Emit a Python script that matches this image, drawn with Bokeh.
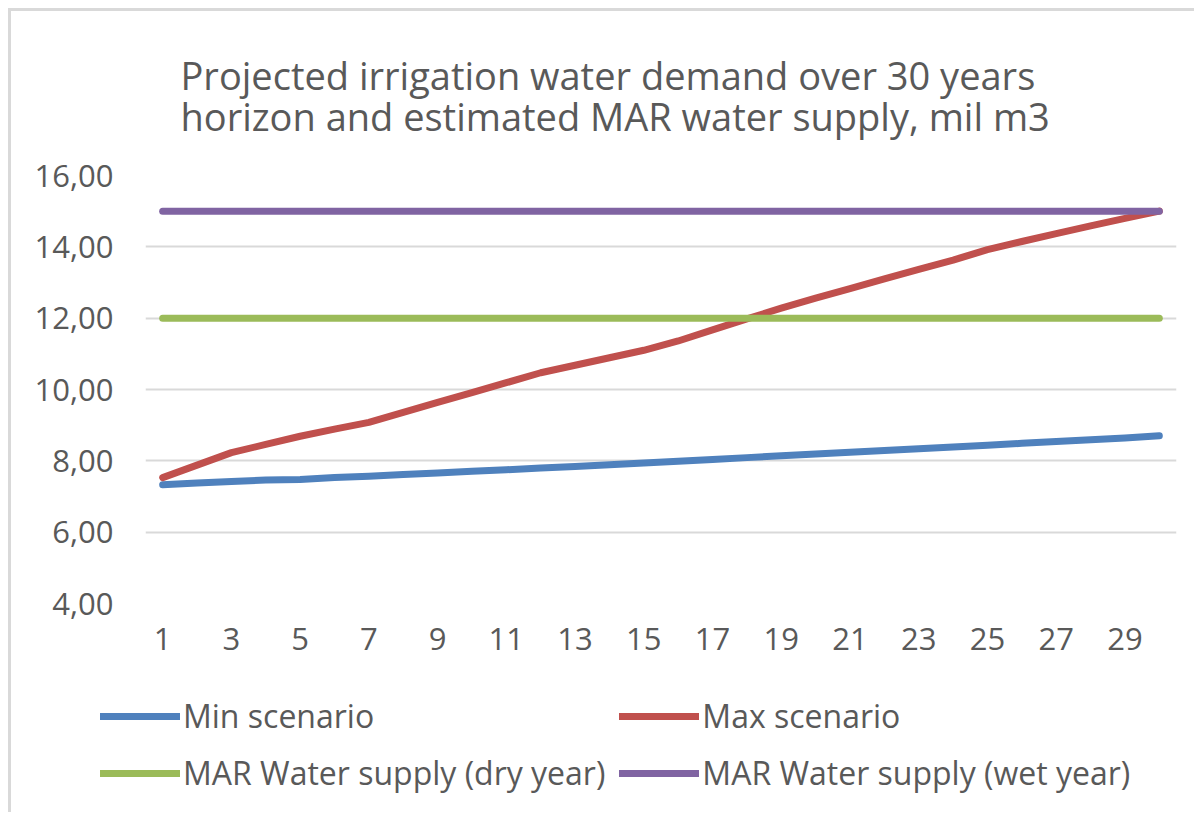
from bokeh.plotting import figure
from bokeh.models import (Legend, LegendItem, FixedTicker, CustomJSTickFormatter,
                          Range1d)
from bokeh.embed import file_html
from bokeh.resources import INLINE

# ---- data ----
years = list(range(1, 31))
min_scenario = [7.33, 7.38, 7.42, 7.46, 7.48, 7.53, 7.57, 7.62, 7.66, 7.71,
                7.75, 7.80, 7.84, 7.89, 7.94, 7.99, 8.04, 8.09, 8.14, 8.19,
                8.24, 8.29, 8.34, 8.39, 8.44, 8.49, 8.54, 8.59, 8.64, 8.70]
max_scenario = [7.53, 7.88, 8.23, 8.46, 8.69, 8.89, 9.08, 9.36, 9.64, 9.91,
                10.19, 10.47, 10.68, 10.89, 11.10, 11.36, 11.67, 11.98, 12.28, 12.56,
                12.83, 13.10, 13.37, 13.63, 13.92, 14.15, 14.37, 14.59, 14.80, 15.00]
dry_year = [12.0] * 30
wet_year = [15.0] * 30
y_ticks = [4, 6, 8, 10, 12, 14, 16]
x_ticks = [1, 3, 5, 7, 9, 11, 13, 15, 17, 19, 21, 23, 25, 27, 29]

series = [
    ("Min scenario", min_scenario, "#4f81bd"),
    ("Max scenario", max_scenario, "#c0504d"),
    ("MAR Water supply (dry year)", dry_year, "#9bbb59"),
    ("MAR Water supply (wet year)", wet_year, "#8064a2"),
]

FONT = "Open Sans"
TXT = "#595959"
W = 1186
BORDER = "3px solid #d9d9d9"

# ---- main chart ----
p = figure(width=W, height=680, output_backend="svg", toolbar_location=None,
           x_range=Range1d(0.5, 30.5), y_range=Range1d(4, 16),
           min_border_left=134, min_border_right=21, min_border_top=164,
           min_border_bottom=88)
p.styles = {"margin-left": "8px", "margin-top": "8px",
            "border-left": BORDER, "border-top": BORDER}
p.outline_line_color = None
p.background_fill_color = "white"
p.border_fill_color = "white"

p.title.text = ("Projected irrigation water demand over 30 years\n"
                "horizon and estimated MAR water supply, mil m3")
p.title.text_font = FONT
p.title.text_font_size = "38px"
p.title.text_line_height = 0.8
p.title.text_font_style = "normal"
p.title.text_color = TXT
p.title.align = "left"
p.title.offset = 35
p.title.standoff = 66

for name, vals, col in series:
    p.line(years, vals, line_color=col, line_width=7, line_cap="round",
           line_join="round")

p.xgrid.grid_line_color = None
p.ygrid.grid_line_color = "#d9d9d9"
p.ygrid.grid_line_width = 2
p.ygrid.ticker = FixedTicker(ticks=y_ticks)

p.yaxis.ticker = FixedTicker(ticks=y_ticks)
p.yaxis.formatter = CustomJSTickFormatter(code="return tick.toFixed(2).replace('.', ',');")
p.xaxis.ticker = FixedTicker(ticks=x_ticks)
for ax in (p.xaxis, p.yaxis):
    ax.axis_line_color = None
    ax.major_tick_line_color = None
    ax.minor_tick_line_color = None
    ax.major_label_text_font = FONT
    ax.major_label_text_font_size = "31px"
    ax.major_label_text_color = TXT
p.yaxis.major_label_standoff = 26
p.xaxis.major_label_standoff = 18

# ---- legend strip (separate root, so frames are not aligned) ----
q = figure(width=W, height=124, output_backend="svg", toolbar_location=None,
           x_range=Range1d(0, 1), y_range=Range1d(0, 1),
           x_axis_location=None, y_axis_location=None,
           min_border_left=0, min_border_right=0, min_border_top=0,
           min_border_bottom=0)
q.styles = {"margin-left": "8px", "border-left": BORDER}
q.grid.visible = False
q.outline_line_color = None
q.border_fill_color = "white"
q.background_fill_color = "white"

leg_r = {}
for name, vals, col in series:
    # off-range stand-ins: only their legend swatches are shown
    leg_r[name] = q.line([-5, -4], [-5, -5], line_color=col, line_width=7,
                         line_cap="round")

order = ["Min scenario", "MAR Water supply (dry year)",
         "Max scenario", "MAR Water supply (wet year)"]
legend = Legend(items=[LegendItem(label=n, renderers=[leg_r[n]]) for n in order],
                ncols=2, location=(89, 18))
legend.label_text_font = FONT
legend.label_text_font_size = "32px"
legend.label_text_color = TXT
legend.glyph_width = 80
legend.glyph_height = 20
legend.label_standoff = 3
legend.spacing = 14
legend.padding = 0
legend.margin = 0
legend.border_line_color = None
legend.background_fill_alpha = 0
q.add_layout(legend, "center")

open("out.html", "w").write(file_html([p, q], INLINE))
